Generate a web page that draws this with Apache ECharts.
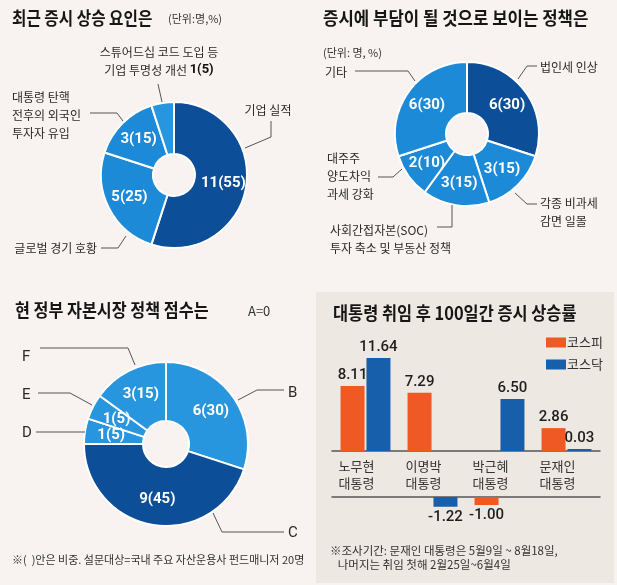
<!DOCTYPE html>
<html><head><meta charset="utf-8">
<script src="https://cdn.jsdelivr.net/npm/echarts@6/dist/echarts.min.js"></script>
<style>html,body{margin:0;padding:0;background:#f8f3f0}#c{width:617px;height:585px}</style>
</head><body><div id="c"></div>
<script>
// ---------- DATA ----------
const p1Title = '최근 증시 상승 요인은';
const p1Names = ['기업 실적', '글로벌 경기 호황', '대통령 탄핵\n전후의 외국인\n투자자 유입', '스튜어드십 코드 도입 등\n기업 투명성 개선'];
const p1Values = [11, 5, 3, 1];

const p2Title = '증시에 부담이 될 것으로 보이는 정책은';
const p2Names = ['법인세 인상', '각종 비과세\n감면 일몰', '사회간접자본(SOC)\n투자 축소 및 부동산 정책', '대주주\n양도차익\n과세 강화', '기타'];
const p2Values = [6, 3, 3, 2, 6];

const p3Title = '현 정부 자본시장 정책 점수는';
const p3Names = ['B', 'C', 'D', 'E', 'F'];
const p3Values = [6, 9, 1, 1, 3];
const p3Note = 'A=0';

const barTitle = '대통령 취임 후 100일간 증시 상승률';
const barCategories = ['노무현\n대통령', '이명박\n대통령', '박근혜\n대통령', '문재인\n대통령'];
const seriesNames = ['코스피', '코스닥'];
const kospi = [8.11, 7.29, -1.00, 2.86];
const kosdaq = [11.64, -1.22, 6.50, 0.03];

const unit1 = '(단위:명,%)';
const unit2 = '(단위: 명, %)';
const footLeft = '※(  )안은 비중. 설문대상=국내 주요 자산운용사 펀드매니저 20명';
const footRight = '※조사기간: 문재인 대통령은 5월9일 ~ 8월18일,\n   나머지는 취임 첫해 2월25일~6월4일';

// ---------- STYLE / LAYOUT ----------
const KR = '"Noto Sans CJK KR", sans-serif';
const NUM = 'Roboto, "Noto Sans CJK KR", sans-serif';
const DARK = '#0c4e98', MID = '#1d8ad8', LIGHT = '#2896de';
const ORANGE = '#ef5a24', BLUE = '#185fab';
const LINE = '#555';

const p1Colors = [DARK, MID, MID, LIGHT];
const p2Colors = [DARK, MID, MID, MID, MID];
const p3Colors = [LIGHT, DARK, LIGHT, LIGHT, LIGHT];

const p1Layout = [
  {x: 268, y: 110, align: 'center', line: [[245,148],[271,137],[271,121]]},
  {x: 97, y: 248, align: 'right', line: [[126,236],[118,248],[101,248]]},
  {x: 12, y: 115, align: 'left', line: [[123,121],[117,113],[90,113]]},
  {x: 159, y: 61, align: 'center', line: [[162,102],[160,93],[158,84]], bold: true}
];
const p2Layout = [
  {x: 540, y: 67, align: 'left', line: [[518,79],[527,66],[537,66]]},
  {x: 540, y: 212, align: 'left', line: [[515,193],[527,204],[537,204]]},
  {x: 330, y: 239, align: 'left', line: [[452,205],[452,227],[437,227]]},
  {x: 327, y: 176, align: 'left', line: [[402,169],[393,177],[378,177]]},
  {x: 325, y: 72, align: 'left', line: [[415,81],[408,71],[355,71]]}
];
const p3Layout = [
  {x: 288, y: 393, align: 'left', line: [[238,400],[257,390],[284,390]]},
  {x: 288, y: 533, align: 'left', line: [[213,513],[222,532],[284,532]]},
  {x: 22, y: 433, align: 'left', line: [[85,432],[60,432],[36,432]]},
  {x: 22, y: 395, align: 'left', line: [[92,405],[70,393],[38,393]]},
  {x: 22, y: 357, align: 'left', line: [[135,365],[128,348],[40,348]]}
];

function makePies(names, values, colors, layout, center, radius, hideInside) {
  const data = names.map((n, i) => ({name: n, value: values[i], itemStyle: {color: colors[i]}}));
  const inside = {
    type: 'pie', center: center, radius: radius, startAngle: 90, clockwise: true,
    avoidLabelOverlap: false, silent: true, percentPrecision: 0,
    itemStyle: {borderColor: '#fff', borderWidth: 2},
    label: {
      position: 'inside', color: '#fff', fontFamily: NUM, fontWeight: 'bold', fontSize: 15,
      formatter: p => (hideInside && hideInside[p.dataIndex]) ? '' : p.value + '(' + p.percent + ')'
    },
    labelLine: {show: false},
    emphasis: {disabled: true},
    data: data
  };
  const outside = {
    type: 'pie', center: center, radius: radius, startAngle: 90, clockwise: true,
    avoidLabelOverlap: false, silent: true, percentPrecision: 0, z: 3,
    itemStyle: {color: 'rgba(0,0,0,0)'},
    label: {
      position: 'outside', color: '#2a2a2a', fontFamily: KR, fontSize: 12, lineHeight: 18,
      formatter: p => {
        if (layout[p.dataIndex].bold) {
          const parts = p.name.split('\n');
          return '{n|' + parts[0] + '}\n{n|' + parts[1] + ' }{b|' + p.value + '(' + p.percent + ')}';
        }
        return p.name;
      },
      rich: {
        n: {fontFamily: KR, fontSize: 12, color: '#2a2a2a', lineHeight: 18},
        b: {fontFamily: NUM, fontSize: 13, fontWeight: 'bold', color: '#111', lineHeight: 18}
      }
    },
    labelLine: {show: true, lineStyle: {color: LINE, width: 1}},
    labelLayout: p => {
      const L = layout[p.dataIndex];
      return {x: L.x, y: L.y, align: L.align, verticalAlign: 'middle', labelLinePoints: L.line};
    },
    emphasis: {disabled: true},
    data: names.map((n, i) => ({name: n, value: values[i]}))
  };
  return [inside, outside];
}

const pies = [].concat(
  makePies(p1Names, p1Values, p1Colors, p1Layout, [174, 175], [21, 73], [false, false, false, true]),
  makePies(p2Names, p2Values, p2Colors, p2Layout, [467, 134], [21, 72], null),
  makePies(p3Names, p3Values, p3Colors, p3Layout, [166, 444], [23, 82], null)
);
pies[5].label.fontSize = 15;
pies[5].label.fontFamily = 'Roboto, sans-serif';

const valLabel = pos => ({
  show: true, position: pos, distance: 3, fontFamily: NUM, fontSize: 15, fontWeight: 500, color: '#1e1e1e',
  formatter: p => Number(p.value).toFixed(2)
});

const barSeries = [];
[kospi, kosdaq].forEach((arr, si) => {
  const color = si === 0 ? ORANGE : BLUE;
  barSeries.push({
    type: 'bar', name: seriesNames[si], xAxisIndex: 0, yAxisIndex: 0,
    data: arr.map(v => v >= 0 ? v : '-'), barWidth: 24, barGap: '8%', barMinHeight: 2,
    itemStyle: {color: color}, label: valLabel('top'), silent: true
  });
  barSeries.push({
    type: 'bar', name: seriesNames[si], xAxisIndex: 1, yAxisIndex: 1,
    data: arr.map(v => v < 0 ? v : '-'), barWidth: 24, barGap: '8%',
    itemStyle: {color: color}, label: valLabel('bottom'), silent: true
  });
});

function title(text, x, y, sx) {
  return {type: 'text', x: x, y: y, scaleX: sx, z: 10,
    style: {text: text, font: 'bold 18px ' + KR, fill: '#161616', textVerticalAlign: 'middle', verticalAlign: 'middle'}};
}
function small(text, x, y, size, lh) {
  return {type: 'text', x: x, y: y, z: 10,
    style: {text: text, font: size + 'px ' + KR, fill: '#333', textVerticalAlign: 'middle', verticalAlign: 'middle', lineHeight: lh || size + 2}};
}

const chart = echarts.init(document.getElementById('c'), null, {renderer: 'canvas'});
chart.setOption({
  backgroundColor: '#f8f3f0',
  animation: false,
  graphic: [
    {type: 'rect', shape: {x: 316, y: 292, width: 298, height: 291}, style: {fill: '#ede8e2'}, z: -10},
    title(p1Title, 12, 18, 0.87),
    small(unit1, 168, 19, 11),
    title(p2Title, 323, 18, 0.93),
    small(unit2, 323, 53, 11),
    title(p3Title, 15, 310, 0.9),
    small(p3Note, 248, 311, 13),
    title(barTitle, 333, 313, 0.91),
    small(footLeft, 12, 560, 11),
    small(footRight, 330, 558, 11.5, 14)
  ],
  legend: {
    orient: 'vertical', left: 541, top: 331, itemWidth: 20, itemHeight: 10, itemGap: 9,
    icon: 'rect', data: seriesNames, selectedMode: false,
    textStyle: {fontFamily: KR, fontSize: 13, color: '#333', padding: [0, 0, 0, -4]}
  },
  grid: [
    {left: 332, top: 355, width: 268, height: 96},
    {left: 332, top: 497, width: 268, height: 16}
  ],
  xAxis: [
    {gridIndex: 0, type: 'category', data: barCategories,
      axisLine: {lineStyle: {color: LINE, width: 1.5}}, axisTick: {show: false},
      axisLabel: {fontFamily: KR, fontSize: 13, lineHeight: 17, color: '#333', margin: 7, padding: [0, 18, 0, 0]}},
    {gridIndex: 1, type: 'category', data: barCategories, position: 'top',
      axisLine: {lineStyle: {color: LINE, width: 1.5}}, axisTick: {show: false}, axisLabel: {show: false}}
  ],
  yAxis: [
    {gridIndex: 0, type: 'value', min: 0, max: 12, show: false},
    {gridIndex: 1, type: 'value', min: -2, max: 0, show: false}
  ],
  series: pies.concat(barSeries)
});
</script></body></html>
